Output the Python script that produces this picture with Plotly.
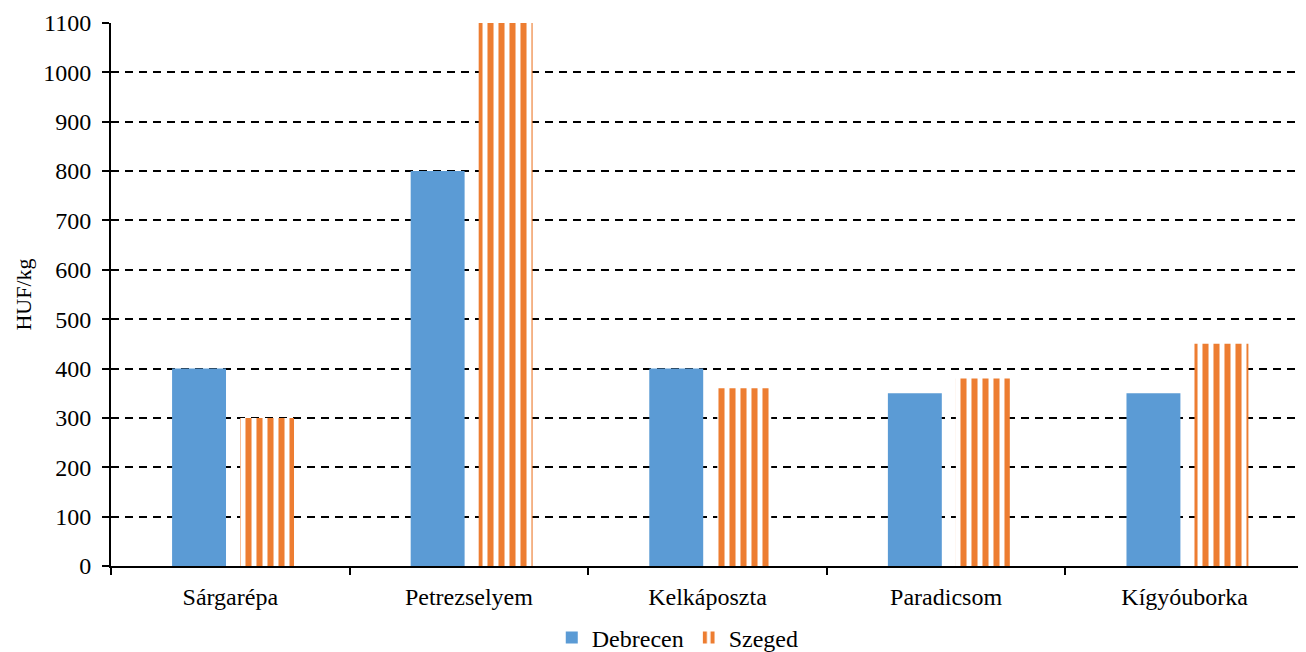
import plotly.graph_objects as go

categories = ["Sárgarépa", "Petrezselyem", "Kelkáposzta", "Paradicsom", "Kígyóuborka"]
debrecen = [400, 800, 400, 350, 350]
szeged = [300, 1100, 360, 380, 450]
y_ticks = list(range(0, 1101, 100))

BLUE = "#5B9BD5"
ORANGE = "#ED7D31"
FONT = "Liberation Serif"

BAR_W = 0.226

fig = go.Figure()
fig.add_trace(go.Bar(
    name="Debrecen", x=categories, y=debrecen,
    width=BAR_W, offset=-0.244,
    marker=dict(color=BLUE, line=dict(width=0)),
))
fig.add_trace(go.Bar(
    name="Szeged", x=categories, y=szeged,
    width=BAR_W, offset=0.041,
    marker=dict(color=ORANGE, line=dict(width=0),
                pattern=dict(shape="|", fgcolor=ORANGE, bgcolor="white", fgopacity=1,
                             size=11, solidity=0.55, fillmode="replace")),
))

fig.update_layout(
    width=1298, height=644,
    margin=dict(l=103, r=2, t=15, b=86),
    paper_bgcolor="white", plot_bgcolor="white",
    barmode="overlay",
    font=dict(family=FONT, size=24, color="black"),
    showlegend=True,
    legend=dict(orientation="h", x=0.516, xref="container", xanchor="center",
                y=0.022, yref="container", yanchor="middle",
                font=dict(family=FONT, size=24, color="black"),
                itemwidth=30, tracegroupgap=0, bgcolor="rgba(0,0,0,0)"),
    xaxis=dict(
        showline=True, linecolor="black", linewidth=2,
        ticks="outside", tickson="boundaries", ticklen=7, tickwidth=2, tickcolor="black",
        showgrid=False, tickfont=dict(family=FONT, size=24, color="black"),
        ticklabelstandoff=8,
        automargin=False,
    ),
    yaxis=dict(
        range=[0, 1100], tickvals=y_ticks,
        showline=True, linecolor="black", linewidth=2,
        ticks="outside", ticklen=7, tickwidth=2, tickcolor="black",
        showgrid=True, gridcolor="black", gridwidth=2, griddash="8px,6px",
        zeroline=False,
        tickfont=dict(family=FONT, size=24, color="black"),
        ticklabelstandoff=6,
        title=dict(text="HUF/kg", font=dict(family=FONT, size=22, color="black"), standoff=6),
        automargin=False,
    ),
)

fig.write_html("out.html")
